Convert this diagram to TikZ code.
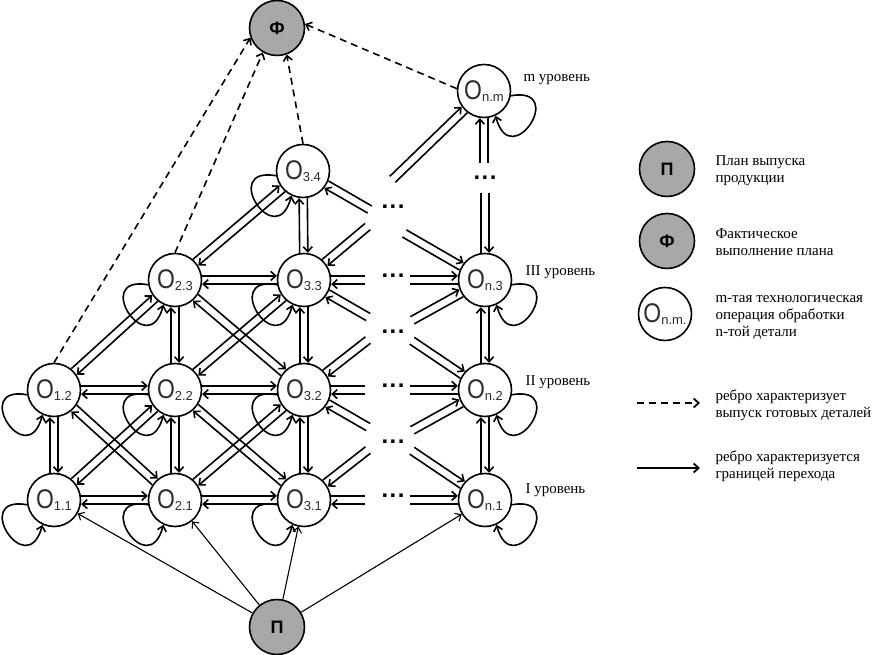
\documentclass[tikz,border=0pt]{standalone}
\usepackage{fontspec}
\setmainfont{Liberation Serif}
\newfontfamily\nodefont[FakeStretch=0.85]{Liberation Sans}
\newfontfamily\sansfont{Liberation Sans}
\usetikzlibrary{calc,arrows.meta}
\definecolor{ngray}{RGB}{168,168,168}
\definecolor{tgray}{RGB}{45,45,45}
\def\nR{27.4}
\def\dA{8.6}
\newcommand\olab[1]{{\nodefont\fontsize{27}{27}\selectfont O}\raisebox{-2.5pt}{\sansfont\fontsize{13}{13}\selectfont #1}}
\newcommand\gsym[1]{{\sansfont\bfseries\fontsize{18}{18}\selectfont #1}}
\newcommand\dotsym{{\sansfont\bfseries\fontsize{24}{24}\selectfont .\kern1.5pt.\kern1.5pt.}}
\tikzset{
 onode/.style={circle,draw,line width=1.6pt,minimum size=53pt,inner sep=0pt,fill=white,text=tgray},
 gnode/.style={circle,draw,line width=1.6pt,minimum size=55pt,inner sep=0pt,fill=ngray},
 ln/.style={line width=1.6pt},
 ar/.style={ln,-{Straight Barb[length=5pt,width=9pt]}},
 dsh/.style={ar,dash pattern=on 7pt off 5pt},
 par/.style={line width=1.1pt,-{Straight Barb[length=5pt,width=9pt]}},
 lvl/.style={anchor=west,font=\fontsize{15}{17}\selectfont},
 leg/.style={anchor=west,align=left,font=\fontsize{15}{17}\selectfont},
 dotnode/.style={inner sep=0pt},
}
% double edge between two nodes, opposite arrows
\newcommand\dedge[2]{%
 \draw[ar] let \p1=($(#2)-(#1)$), \n1={atan2(\y1,\x1)} in ($(#1)+({\n1+\dA}:\nR)$) -- ($(#2)+({\n1+180-\dA}:\nR)$);%
 \draw[ar] let \p1=($(#2)-(#1)$), \n1={atan2(\y1,\x1)} in ($(#2)+({\n1+180+\dA}:\nR)$) -- ($(#1)+({\n1-\dA}:\nR)$);}
% half double edge leaving a node in direction #2 with length #3
\newcommand\hedge[3]{%
 \draw[ln] ($(#1)+({#2+\dA}:\nR)$) -- ++(#2:#3);%
 \draw[ar] ($(#1)+({#2-\dA}:\nR)+(#2:#3)$) -- ($(#1)+({#2-\dA}:\nR)$);}
\newcommand\loopl[1]{\draw[ar] (#1.190) .. controls +(170:58) and +(255:60) .. (#1.245);}
\newcommand\loopr[1]{\draw[ar] (#1.-10) .. controls +(10:58) and +(285:60) .. (#1.-65);}

\begin{document}
\begin{tikzpicture}[x=1pt,y=1pt]
\useasboundingbox (0,0) rectangle (872,655);

% nodes
\node[gnode] (Phi) at (277,627) {\gsym{Ф}};
\node[onode] (Onm) at (484,564) {\olab{n.m}};
\node[onode] (O34) at (303,484) {\olab{3.4}};
\node[onode] (O23) at (175,375) {\olab{2.3}};
\node[onode] (O33) at (304,375) {\olab{3.3}};
\node[onode] (On3) at (485,375) {\olab{n.3}};
\node[onode] (O12) at (54,265) {\olab{1.2}};
\node[onode] (O22) at (175,265) {\olab{2.2}};
\node[onode] (O32) at (304,265) {\olab{3.2}};
\node[onode] (On2) at (485,265) {\olab{n.2}};
\node[onode] (O11) at (54,155) {\olab{1.1}};
\node[onode] (O21) at (175,155) {\olab{2.1}};
\node[onode] (O31) at (304,155) {\olab{3.1}};
\node[onode] (On1) at (485,155) {\olab{n.1}};
\node[gnode] (Pi) at (277,28) {\gsym{П}};

% dots
\node[dotnode] (d1) at (393,448) {\dotsym};
\node[dotnode] (d2) at (393,379) {\dotsym};
\node[dotnode] (d3) at (393,323) {\dotsym};
\node[dotnode] (d4) at (393,269) {\dotsym};
\node[dotnode] (d5) at (393,213) {\dotsym};
\node[dotnode] (d6) at (393,159) {\dotsym};
\node[dotnode] (d7) at (485,477) {\dotsym};

% horizontal
\dedge{O11}{O21}
\dedge{O21}{O31}
\dedge{O12}{O22}
\dedge{O22}{O32}
\dedge{O23}{O33}
% vertical
\dedge{O11}{O12}
\dedge{O21}{O22}
\dedge{O22}{O23}
\dedge{O31}{O32}
\dedge{O32}{O33}
\dedge{O33}{O34}
\dedge{On1}{On2}
\dedge{On2}{On3}
% diagonal
\dedge{O11}{O22}
\dedge{O12}{O21}
\dedge{O21}{O32}
\dedge{O22}{O31}
\dedge{O12}{O23}
\dedge{O22}{O33}
\dedge{O23}{O32}
\dedge{O23}{O34}

% broken edges towards column n
\hedge{O33}{0}{34}\hedge{On3}{180}{48}
\hedge{O32}{0}{34}\hedge{On2}{180}{48}
\hedge{O31}{0}{34}\hedge{On1}{180}{48}
\hedge{On3}{90}{60}\hedge{Onm}{270}{45}
\hedge{O34}{-30}{50}\hedge{O33}{40}{56}\hedge{On3}{150}{66}\hedge{Onm}{224}{100}
\hedge{O33}{-30}{47}\hedge{O32}{38}{54}\hedge{On3}{209}{56}\hedge{On2}{146}{61}
\hedge{O32}{-30}{47}\hedge{O31}{38}{54}\hedge{On2}{209}{56}\hedge{On1}{146}{61}

% loops
\loopl{O11}\loopl{O12}\loopl{O21}\loopl{O22}\loopl{O23}
\loopl{O31}\loopl{O32}\loopl{O33}\loopl{O34}
\loopr{On1}\loopr{On2}\loopr{On3}\loopr{Onm}

% dashed to Phi
\draw[dsh] (O12.north) -- (Phi.200);
\draw[dsh] (O23.north) -- (Phi.240);
\draw[dsh] (O34.north) -- (Phi.290);
\draw[dsh] (Onm.175) -- (Phi.8);

% from Pi
\draw[par] (Pi) -- (O11);
\draw[par] (Pi) -- (O21);
\draw[par] (Pi) -- (O31);
\draw[par] (Pi) -- (On1);

% level labels
\node[lvl] (lm) at (520,575) {m уровень};
\node[lvl] (l3) at (522,383) {III уровень};
\node[lvl] (l2) at (522,273) {II уровень};
\node[lvl] (l1) at (522,165) {I уровень};

% legend
\node[gnode] (LP) at (667,486) {\gsym{П}};
\node[gnode] (LF) at (667,414) {\gsym{Ф}};
\node[onode] (LO) at (665,341) {\olab{n.m.}};
\node[leg] (tP) at (712,484) {План выпуска\\продукции};
\node[leg] (tF) at (712,413) {Фактическое\\выполнение плана};
\node[leg] (tO) at (712,338) {m-тая технологическая\\операция обработки\\n-той детали};
\coordinate (ld1) at (637,252);
\coordinate (ld2) at (700,252);
\draw[dsh,line width=1.8pt] (ld1) -- (ld2);
\node[leg] (tD) at (712,250) {ребро характеризует\\выпуск готовых деталей};
\coordinate (ls1) at (637,187);
\coordinate (ls2) at (700,187);
\draw[ar,line width=1.8pt] (ls1) -- (ls2);
\node[leg] (tS) at (712,189) {ребро характеризуется\\границей перехода};
\end{tikzpicture}
\end{document}
